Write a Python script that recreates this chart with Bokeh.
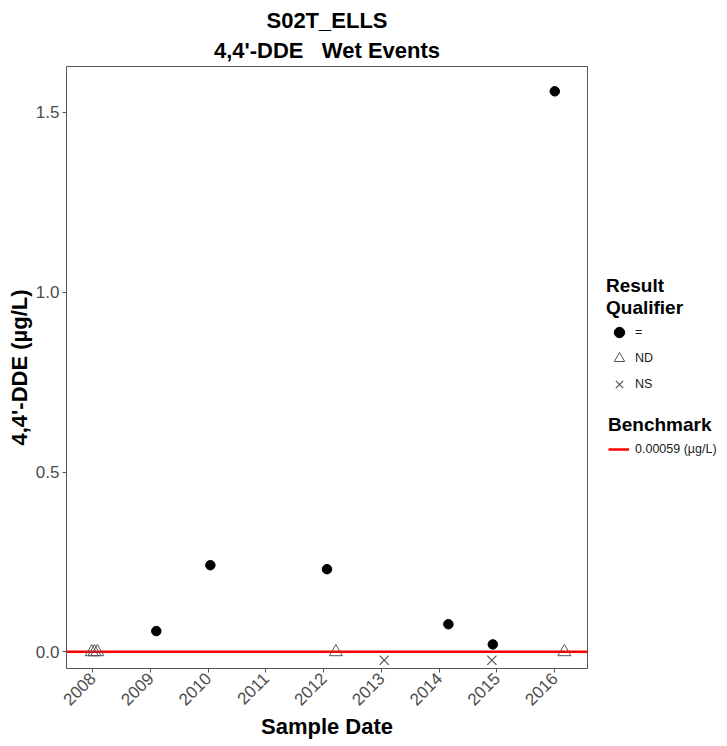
import pandas as pd
from math import pi
from bokeh.plotting import figure
from bokeh.layouts import row
from bokeh.models import (FixedTicker, DatetimeTickFormatter, NumeralTickFormatter,
                          Legend, LegendItem, Range1d, Title)
from bokeh.embed import file_html
from bokeh.resources import INLINE

# ---- data ----
eq_dates = ["2009-02-06", "2010-01-14", "2012-01-22", "2014-02-28", "2014-12-06", "2016-01-02"]
eq_values = [0.058, 0.241, 0.230, 0.077, 0.021, 1.558]
nd_dates = ["2007-12-26", "2008-01-12", "2008-01-30", "2012-03-18", "2016-03-03"]
nd_values = [0.0, 0.0, 0.0, 0.0, 0.0]
ns_dates = ["2013-01-18", "2014-11-30"]
ns_values = [-0.023, -0.023]
benchmark = 0.00059
benchmark_label = "0.00059 (µg/L)"
qualifier_labels = ["=", "ND", "NS"]
tick_years = [2008, 2009, 2010, 2011, 2012, 2013, 2014, 2015, 2016]
y_ticks = [0.0, 0.5, 1.0, 1.5]
x_lo, x_hi = pd.Timestamp("2007-07-19"), pd.Timestamp("2016-07-27")
y_lo, y_hi = -0.046, 1.627

FONT = "Liberation Sans"
NBSP = "\u00a0"

p = figure(frame_width=521, frame_height=602,
           x_axis_type="datetime",
           x_range=Range1d(x_lo, x_hi), y_range=Range1d(y_lo, y_hi),
           output_backend="svg", toolbar_location=None,
           min_border_left=0, min_border_right=5, min_border_top=0, min_border_bottom=0,
           background_fill_color="white", border_fill_color="white")
p.margin = (5, 0, 0, 3)
p.align = "start"

p.title.text = "S02T_ELLS"
title_2 = Title(text="4,4'-DDE" + NBSP * 3 + "Wet Events")
for t in (p.title, title_2):
    t.align = "center"
    t.text_font = FONT
    t.text_font_size = "22px"
    t.text_font_style = "bold"
    t.text_color = "black"
p.title.standoff = 0
title_2.standoff = 7
p.add_layout(title_2, "above")

p.outline_line_color = "#555555"
p.outline_line_width = 1
p.xgrid.visible = False
p.ygrid.visible = False

# benchmark line
p.line(x=[x_lo, x_hi], y=[benchmark, benchmark], line_color="red", line_width=2.5)

p.scatter(x=pd.to_datetime(nd_dates), y=nd_values, marker="triangle", size=13,
          line_color="#555555", fill_color=None, line_width=1)
p.scatter(x=pd.to_datetime(ns_dates), y=ns_values, marker="x", size=13,
          line_color="#555555", line_width=1.2)
p.scatter(x=pd.to_datetime(eq_dates), y=eq_values, marker="circle", size=9.5,
          fill_color="black", line_color="black")

# axes
xa = p.xaxis[0]
xa.ticker = FixedTicker(ticks=[pd.Timestamp(f"{y}-01-01").value / 1e6 for y in tick_years])
xa.formatter = DatetimeTickFormatter(years="%Y", months="%Y", days="%Y", hours="%Y")
xa.major_label_orientation = pi / 4
ya = p.yaxis[0]
ya.ticker = FixedTicker(ticks=y_ticks)
ya.formatter = NumeralTickFormatter(format="0.0")

for ax in (xa, ya):
    ax.axis_line_color = None
    ax.major_tick_line_color = "#555555"
    ax.major_tick_out = 4
    ax.major_tick_in = 0
    ax.minor_tick_line_color = None
    ax.major_label_text_font = FONT
    ax.major_label_text_font_size = "17px"
    ax.major_label_text_color = "#4D4D4D"
    ax.major_label_standoff = 3
    ax.axis_label_text_font = FONT
    ax.axis_label_text_font_style = "bold"
    ax.axis_label_text_color = "black"
    ax.axis_label_text_font_size = "22px"

xa.axis_label = "Sample Date"
xa.axis_label_standoff = 0
ya.axis_label = "4,4'-DDE (µg/L)"
ya.axis_label_standoff = 1

# ---- legend panel (separate, axis-less figure to the right) ----
LH = 600
lf = figure(width=126, height=LH, x_range=Range1d(0, 1), y_range=Range1d(0, 1),
            output_backend="svg", toolbar_location=None,
            x_axis_location=None, y_axis_location=None,
            min_border=0, outline_line_color=None,
            background_fill_color="white", border_fill_color="white")
lf.align = "start"
lf.xgrid.visible = False
lf.ygrid.visible = False

# key renderers: same series, but outside this panel's view (only their legend glyphs show)
k_eq = lf.scatter(x=pd.to_datetime(eq_dates), y=eq_values, marker="circle", size=8.5,
                  fill_color="black", line_color="black")
k_nd = lf.scatter(x=pd.to_datetime(nd_dates), y=nd_values, marker="triangle", size=14,
                  line_color="#555555", fill_color=None, line_width=1)
k_ns = lf.scatter(x=pd.to_datetime(ns_dates), y=ns_values, marker="x", size=14,
                  line_color="#555555", line_width=1.2)
k_bm = lf.line(x=[x_lo, x_hi], y=[benchmark, benchmark], line_color="red", line_width=2.5)


def style_legend(lg):
    lg.border_line_color = None
    lg.background_fill_alpha = 0
    lg.padding = 0
    lg.margin = 0
    lg.label_text_font = FONT
    lg.label_text_font_size = "12.5px"
    lg.label_text_color = "#1a1a1a"
    lg.title_text_font = FONT
    lg.title_text_font_size = "19px"
    lg.title_text_font_style = "bold"
    lg.title_text_color = "black"


leg1 = Legend(items=[LegendItem(label=qualifier_labels[0], renderers=[k_eq]),
                     LegendItem(label=qualifier_labels[1], renderers=[k_nd]),
                     LegendItem(label=qualifier_labels[2], renderers=[k_ns])],
              title="Result\nQualifier", location=(14, 130.5))
leg2 = Legend(items=[LegendItem(label=benchmark_label, renderers=[k_bm])],
              title="Benchmark", location=(16, 68))
style_legend(leg1)
style_legend(leg2)
leg1.glyph_width = 26
leg1.glyph_height = 26
leg1.spacing = 0
leg1.label_standoff = 3
leg1.title_standoff = 0
leg2.glyph_width = 21
leg2.glyph_height = 20
leg2.spacing = 6
leg2.label_standoff = 6
leg2.title_standoff = 3
lf.add_layout(leg1)
lf.add_layout(leg2)

layout = row(p, lf, spacing=0)
open("out.html", "w").write(file_html(layout, INLINE))
